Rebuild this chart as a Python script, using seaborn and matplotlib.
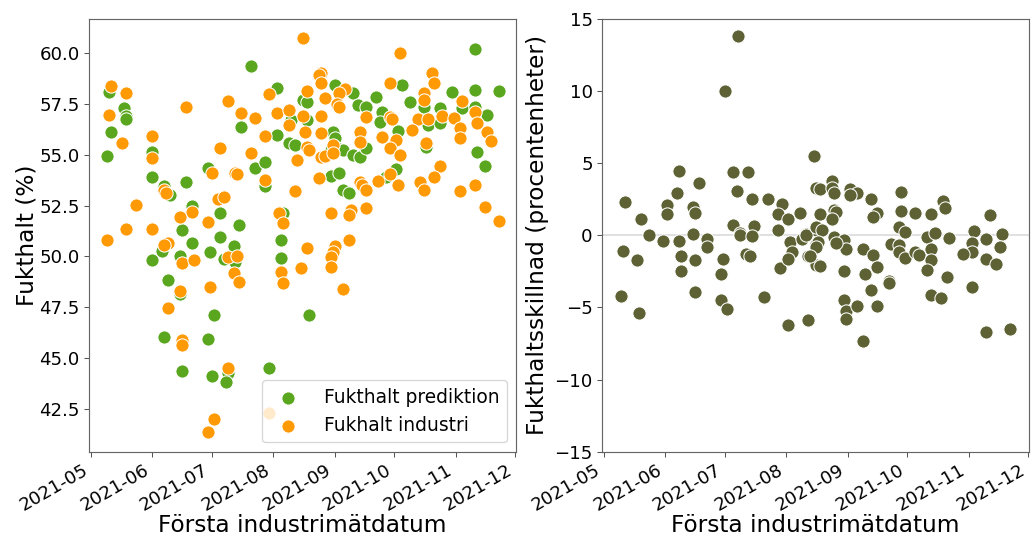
import numpy as np
import pandas as pd
import matplotlib
matplotlib.use("Agg")
import matplotlib.pyplot as plt
import matplotlib.dates as mdates
import seaborn as sns

# ---------------- data ----------------
pred_dates = ["05-10", "05-18", "05-19", "05-19", "05-11", "05-09", "07-16", "06-01", "06-01", "06-29",
              "06-18", "06-07", "06-10", "06-21", "07-05", "06-16", "07-15", "07-05", "06-21", "07-12",
              "06-30", "06-01", "06-06", "06-15", "07-07", "07-13", "06-09", "06-15", "07-02", "06-07",
              "06-29", "06-16", "07-01", "07-09", "07-08", "07-21", "09-01", "08-03", "10-05", "09-22",
              "09-10", "08-16", "08-18", "09-13", "09-17", "09-25", "08-10", "08-18", "09-24", "10-03",
              "08-03", "08-31", "09-01", "08-09", "08-12", "08-30", "09-02", "09-05", "09-10", "09-14",
              "09-17", "07-23", "07-28", "07-28", "08-30", "09-03", "09-05", "09-08", "08-06", "08-05",
              "08-05", "08-19", "07-30", "11-11", "10-30", "11-11", "11-23", "10-09", "10-16", "10-24",
              "11-04", "11-11", "11-17", "10-18", "10-24", "10-17", "11-12", "11-16", "09-27", "10-02"]
pred_values = [58.11, 57.32, 56.93, 56.75, 56.14, 54.96, 56.38, 55.15, 53.92, 54.36,
               53.67, 53.46, 53.02, 52.48, 52.12, 51.30, 51.54, 50.97, 50.64, 50.51,
               50.20, 49.82, 50.28, 50.03, 49.85, 49.73, 48.83, 48.13, 47.11, 46.01,
               45.93, 44.35, 44.12, 44.24, 43.82, 59.39, 58.44, 58.28, 58.44, 57.86,
               58.06, 57.70, 57.62, 57.45, 57.34, 57.12, 56.71, 56.71, 56.63, 56.18,
               55.98, 56.14, 55.81, 55.57, 55.48, 55.24, 55.32, 55.24, 54.99, 54.91,
               55.32, 54.33, 54.66, 53.46, 53.96, 54.12, 53.27, 53.10, 52.12, 50.80,
               49.90, 47.11, 44.51, 60.21, 58.11, 58.19, 58.16, 57.62, 57.37, 57.29,
               57.29, 57.34, 56.96, 56.47, 56.55, 55.40, 55.15, 54.45, 53.90, 54.30]

ind_dates = ["05-11", "05-19", "05-10", "05-17", "06-18", "07-09", "07-16", "06-01", "06-01", "07-05",
             "07-01", "07-13", "07-14", "06-07", "06-08", "07-04", "07-07", "05-24", "06-21", "06-15",
             "06-29", "05-19", "06-01", "05-09", "06-09", "06-07", "06-16", "06-22", "07-09", "07-14",
             "07-12", "07-15", "06-15", "06-30", "06-09", "06-16", "06-16", "07-09", "07-02", "06-29",
             "08-16", "10-04", "08-25", "08-24", "08-25", "07-30", "09-29", "08-18", "09-06", "09-03",
             "08-27", "09-02", "09-03", "07-23", "08-03", "08-09", "08-16", "08-25", "09-17", "09-29",
             "09-30", "08-09", "07-28", "08-17", "08-25", "09-14", "09-14", "09-25", "10-02", "09-29",
             "08-18", "08-19", "08-13", "08-25", "08-31", "08-27", "08-31", "07-21", "07-28", "08-24",
             "09-23", "09-29", "10-03", "09-14", "09-15", "09-17", "08-12", "08-30", "09-09", "09-08",
             "09-17", "08-04", "08-06", "08-18", "09-01", "08-31", "08-30", "09-08", "08-05", "08-15",
             "08-30", "08-06", "09-05", "07-30", "10-20", "10-21", "10-16", "10-16", "11-04", "11-11",
             "10-13", "10-18", "10-25", "10-31", "11-12", "11-03", "11-17", "10-10", "11-19", "10-17",
             "11-03", "10-04", "10-24", "10-21", "10-14", "10-16", "11-03", "11-11", "11-16", "11-23"]
ind_values = [58.39, 58.06, 56.96, 55.60, 57.34, 57.65, 57.04, 55.94, 54.83, 55.32,
              54.09, 54.12, 54.05, 53.27, 53.10, 52.82, 52.94, 52.54, 52.20, 51.95,
              51.67, 51.34, 51.34, 50.80, 50.64, 50.56, 49.66, 49.82, 49.95, 50.01,
              49.16, 48.72, 48.29, 48.47, 47.44, 45.88, 45.63, 44.48, 41.98, 41.36,
              60.74, 60.03, 59.04, 58.93, 58.52, 58.00, 58.55, 58.14, 58.23, 58.03,
              57.78, 57.50, 57.37, 56.80, 57.07, 57.21, 56.91, 56.91, 56.85, 56.85,
              56.75, 56.47, 55.93, 56.14, 56.06, 56.14, 55.65, 55.86, 55.73, 55.32,
              55.40, 55.24, 54.74, 54.91, 55.48, 54.94, 55.07, 55.10, 53.76, 53.87,
              53.73, 54.05, 53.51, 53.67, 53.51, 53.27, 53.23, 52.15, 52.28, 52.03,
              52.36, 52.12, 51.63, 50.40, 50.49, 50.23, 49.95, 50.80, 49.24, 49.44,
              49.49, 48.67, 48.37, 42.30, 59.01, 58.52, 58.06, 57.70, 57.65, 57.12,
              56.75, 56.75, 56.91, 56.80, 56.58, 56.34, 56.14, 56.22, 55.68, 55.60,
              55.81, 54.99, 54.45, 53.92, 53.67, 53.27, 53.23, 53.51, 52.44, 51.75]

diff_dates = ["05-12", "05-20", "05-24", "06-02", "06-02", "06-08", "06-07", "06-18", "06-15", "06-16",
              "07-01", "07-08", "07-05", "07-13", "07-07", "07-15", "07-23", "07-30", "07-28", "08-02",
              "08-08", "08-15", "08-16", "05-11", "05-10", "05-18", "05-19", "05-31", "06-08", "06-09",
              "06-09", "06-15", "06-16", "06-16", "06-22", "06-22", "06-30", "06-29", "06-29", "07-02",
              "07-05", "07-09", "07-09", "07-16", "07-15", "07-12", "07-14", "07-21", "07-28", "07-29",
              "08-02", "08-03", "08-04", "08-02", "08-09", "08-11", "08-12", "08-12", "08-16", "08-16",
              "08-16", "08-24", "08-18", "08-24", "08-25", "09-02", "09-06", "09-02", "09-13", "08-18",
              "08-25", "08-26", "08-24", "09-16", "09-14", "09-28", "09-28", "10-05", "10-13", "10-19",
              "10-20", "11-12", "08-11", "08-16", "08-19", "08-25", "08-30", "08-31", "08-26", "08-17",
              "08-16", "08-13", "08-18", "08-30", "09-09", "09-14", "09-16", "09-10", "09-13", "09-22",
              "09-22", "08-30", "08-31", "08-31", "09-06", "09-16", "09-09", "09-27", "09-30", "09-23",
              "09-27", "09-27", "09-30", "10-05", "10-07", "10-11", "10-15", "10-13", "10-13", "10-11",
              "10-22", "10-21", "10-13", "10-18", "11-04", "11-03", "11-03", "10-29", "11-10", "11-18",
              "11-17", "11-10", "11-15", "11-03", "11-10", "11-22"]
diff_values = [2.28, 1.12, 0.05, 2.09, 1.50, 4.49, 2.95, 3.65, 1.98, 1.56,
               9.98, 13.84, 4.37, 4.37, 3.07, 2.51, 2.51, 2.16, 1.51, 1.12,
               1.58, 5.51, 3.26, -1.12, -4.19, -1.70, -5.42, -0.40, -0.40, -1.40,
               -2.44, 0.12, -1.70, -3.91, -0.23, -0.81, -1.63, -2.67, -4.49, -5.12,
               0.74, 0.16, 0.00, 0.67, -0.07, -1.28, -1.40, -4.30, 0.35, -2.28,
               -6.23, -0.47, -1.16, -1.63, -0.23, 0.12, -1.40, -5.88, -2.09, 0.35,
               -0.58, 3.79, 3.19, 3.26, 2.91, 3.19, 2.91, 2.79, 2.49, 1.47,
               1.74, 1.63, 1.16, 1.56, 1.24, 3.00, 1.70, 1.58, 1.51, 2.39,
               1.86, 1.42, 0.05, 0.58, 0.40, -0.12, -0.35, -0.93, -0.54, -0.47,
               -0.81, -1.44, -2.14, -2.49, -0.98, -1.35, -2.21, -2.67, -3.77, -3.14,
               -3.33, -4.47, -5.23, -5.81, -4.88, -4.93, -7.33, 0.58, 0.23, -0.63,
               -0.65, -1.16, -1.56, -1.16, -1.35, -0.12, 0.19, -0.93, -1.70, -2.39,
               -0.16, -2.86, -4.14, -4.35, 0.30, -0.54, -1.16, -1.30, -0.23, 0.07,
               -0.81, -1.63, -1.98, -3.60, -6.68, -6.47]

legend_labels = ["Fukthalt prediktion", "Fukhalt industri"]
x_label = "Första industrimätdatum"
y_label_left = "Fukthalt (%)"
y_label_right = "Fukthaltsskillnad (procentenheter)"

# ---------------- tables ----------------
def to_dates(lst):
    return pd.to_datetime(["2021-" + d for d in lst])

df_pred = pd.DataFrame({"datum": to_dates(pred_dates), "fukthalt": pred_values})
df_ind = pd.DataFrame({"datum": to_dates(ind_dates), "fukthalt": ind_values})
df_diff = pd.DataFrame({"datum": to_dates(diff_dates), "skillnad": diff_values})

# ---------------- figure ----------------
sns.set_style("white")
plt.rcParams["font.family"] = ["DejaVu Sans"]
plt.rcParams.update({"text.color": "black", "axes.labelcolor": "black",
                     "xtick.color": "black", "ytick.color": "black"})
DPI = 93
fig = plt.figure(figsize=(1032 / DPI, 537 / DPI), dpi=DPI)
ax1 = fig.add_axes([0.0860, 0.1589, 0.4141, 0.8058])
ax2 = fig.add_axes([0.5830, 0.1589, 0.4141, 0.8058])

GREEN = "#5aa61e"
ORANGE = "#ff9a05"
OLIVE = "#5d6133"
S = 105

sns.scatterplot(data=df_pred, x="datum", y="fukthalt", color=GREEN, s=S,
                edgecolor="white", linewidth=0.8, label=legend_labels[0], ax=ax1)
sns.scatterplot(data=df_ind, x="datum", y="fukthalt", color=ORANGE, s=S,
                edgecolor="white", linewidth=0.8, label=legend_labels[1], ax=ax1)

ax2.axhline(0, color="#e0e0e0", lw=1.5, zorder=0)
sns.scatterplot(data=df_diff, x="datum", y="skillnad", color=OLIVE, s=S,
                edgecolor="white", linewidth=0.8, ax=ax2)

xlim = (pd.Timestamp("2021-04-30"), pd.Timestamp("2021-12-01 12:00"))
for ax in (ax1, ax2):
    ax.set_xlim(xlim)
    ax.xaxis.set_major_locator(mdates.MonthLocator())
    ax.xaxis.set_major_formatter(mdates.DateFormatter("%Y-%m"))
    ax.tick_params(axis="both", labelsize=14, length=3.5, width=0.8, color="#555555",
                   labelcolor="black", bottom=True, left=True)
    for lab in ax.get_xticklabels():
        lab.set_rotation(30)
        lab.set_ha("right")
    ax.set_xlabel(x_label, fontsize=18, labelpad=0, color="black")
    for sp in ax.spines.values():
        sp.set_color("#666666")
        sp.set_linewidth(0.9)

ax1.set_ylim(40.38, 61.69)
ax1.set_yticks([42.5, 45.0, 47.5, 50.0, 52.5, 55.0, 57.5, 60.0])
ax1.set_ylabel(y_label_left, fontsize=18, labelpad=1, color="black")
leg = ax1.legend(loc="lower right", fontsize=14.4, frameon=True, handletextpad=0.9,
                 borderpad=0.4)
for t in leg.get_texts():
    t.set_color("black")

ax2.set_ylim(-15, 15)
ax2.set_yticks([-15, -10, -5, 0, 5, 10, 15])
ax2.set_ylabel(y_label_right, fontsize=18, labelpad=4, color="black")

fig.savefig("out.png", dpi=DPI)
